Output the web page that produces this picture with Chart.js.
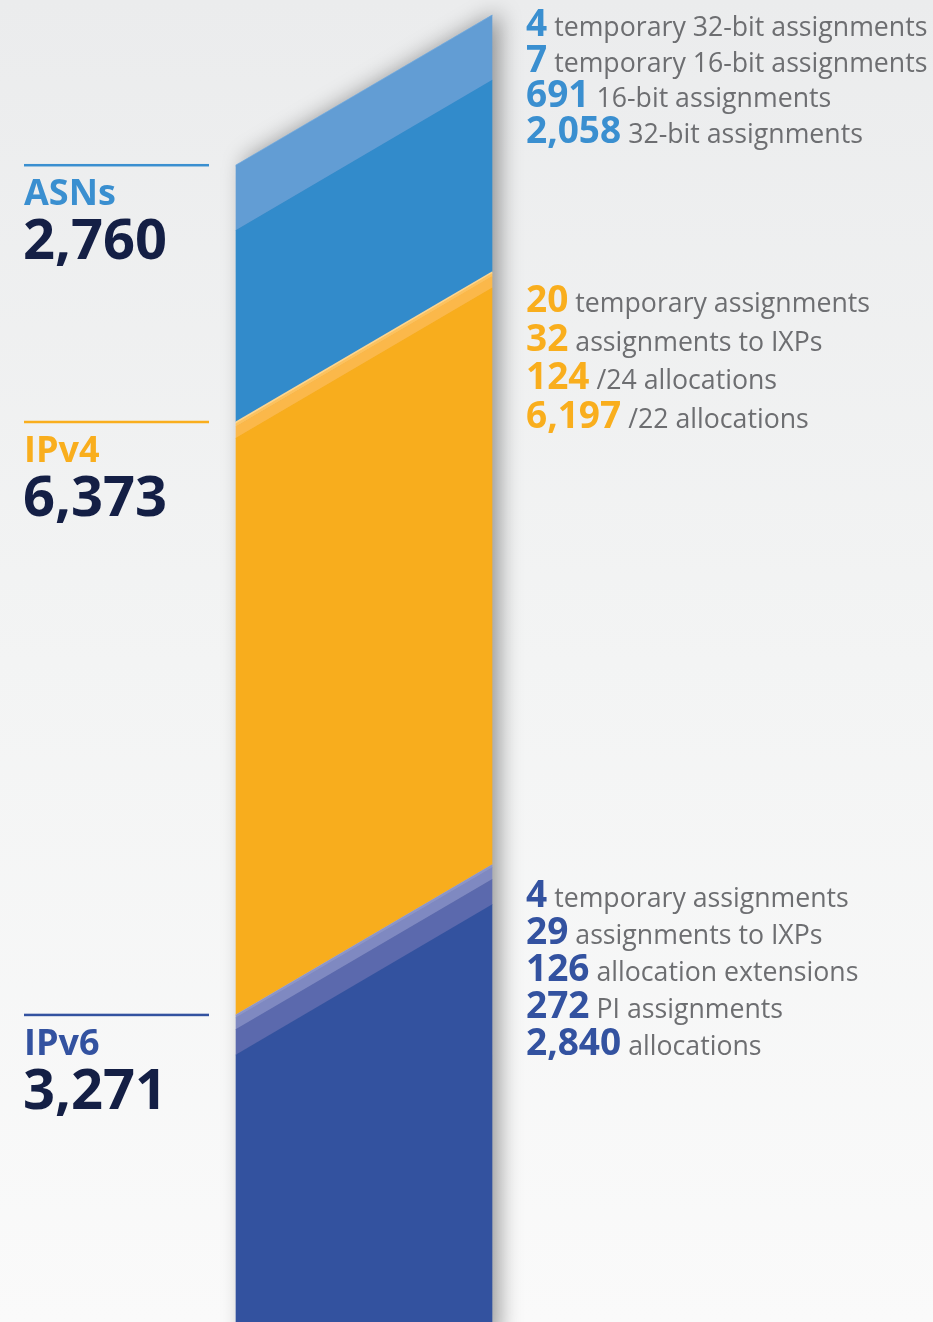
<!DOCTYPE html>
<html>
<head>
<meta charset="utf-8">
<script src="https://cdn.jsdelivr.net/npm/chart.js@4.4.0/dist/chart.umd.min.js"></script>
<style>
  html, body { margin: 0; padding: 0; overflow: hidden; }
  body { width: 933px; height: 1322px; background: linear-gradient(#ebeced, #f3f4f4 50%, #fafafa); }
  canvas { display: block; }
</style>
</head>
<body>
<canvas id="chart" width="933" height="1322"></canvas>
<script>
// data, top of the bar first
const groupNames = ['ASNs', 'IPv4', 'IPv6'];

const asnValues = [4, 7, 691, 2058];
const asnLabels = ['temporary 32-bit assignments', 'temporary 16-bit assignments', '16-bit assignments', '32-bit assignments'];

const ipv4Values = [20, 32, 124, 6197];
const ipv4Labels = ['temporary assignments', 'assignments to IXPs', '/24 allocations', '/22 allocations'];

const ipv6Values = [4, 29, 126, 272, 2840];
const ipv6Labels = ['temporary assignments', 'assignments to IXPs', 'allocation extensions', 'PI assignments', 'allocations'];

// styles
const groupColors = ['#3a8fd0', '#f9ae1d', '#3352a0'];
const asnColors = ['#7db0de', '#6fa6da', '#629dd4', '#328bcb'];
const ipv4Colors = ['#fdd58f', '#fcc25f', '#fbb84a', '#f8ad1d'];
const ipv6Colors = ['#a3aad6', '#8c95c8', '#7f89c1', '#5b69ad', '#33529f'];
const rightFirstBaseline = [36, 312, 907];
const rightLineHeight = [35.7, 38.6, 37];
const slope = 150 / 256;

const groupValues = [asnValues, ipv4Values, ipv6Values];
const groupLabels = [asnLabels, ipv4Labels, ipv6Labels];
const groupShades = [asnColors, ipv4Colors, ipv6Colors];
const groupTotals = groupValues.map(v => v.reduce((a, b) => a + b, 0));
const total = groupTotals.reduce((a, b) => a + b, 0);
const barBase = -1800;

function fmt(n) {
    return n.toLocaleString('en-US');
}

// stack from the bottom: IPv6 allocations first
var datasets = [];
for (var g = groupNames.length - 1; g >= 0; g--) {
    for (var i = groupValues[g].length - 1; i >= 0; i--) {
        datasets.push({
            label: groupNames[g] + ' ' + groupLabels[g][i],
            data: [groupValues[g][i]],
            backgroundColor: groupShades[g][i],
            borderWidth: 0,
            clip: false
        });
    }
}
datasets[0].base = barBase;

const skewPlugin = {
    id: 'skew',
    beforeDatasetsDraw(chart) {
        const ctx = chart.ctx;
        const a = chart.chartArea;
        const y = chart.scales.y;
        ctx.save();
        ctx.transform(1, -slope, 0, 1, 0, slope * a.left);
        var top = y.getPixelForValue(total);
        var bottom = y.getPixelForValue(barBase);
        ctx.save();
        ctx.shadowColor = 'rgba(0,0,0,0.4)';
        ctx.shadowBlur = 22;
        ctx.shadowOffsetX = 8;
        ctx.shadowOffsetY = -4;
        ctx.fillStyle = '#888';
        ctx.fillRect(a.left + 1, top + 1, a.right - a.left - 2, bottom - top);
        ctx.restore();
    },
    afterDatasetsDraw(chart) {
        chart.ctx.restore();
    }
};

const textPlugin = {
    id: 'texts',
    afterDraw(chart) {
        const ctx = chart.ctx;
        const y = chart.scales.y;
        var top = total;
        ctx.save();
        ctx.textBaseline = 'alphabetic';
        ctx.textAlign = 'left';
        groupNames.forEach(function (name, g) {
            var py = y.getPixelForValue(top);
            // left side
            ctx.fillStyle = groupColors[g];
            ctx.fillRect(24, py - 1, 185, 2.5);
            ctx.font = 'bold 36px "Open Sans"';
            ctx.fillText(name, 24, py + 40);
            ctx.fillStyle = '#141f45';
            ctx.font = 'bold 56px "Open Sans"';
            ctx.fillText(fmt(groupTotals[g]), 23, py + 94);
            // right side
            groupValues[g].forEach(function (v, i) {
                var by = rightFirstBaseline[g] + i * rightLineHeight[g];
                ctx.font = 'bold 37px "Open Sans"';
                ctx.fillStyle = groupColors[g];
                var num = fmt(v);
                ctx.fillText(num, 526, by);
                var w = ctx.measureText(num).width;
                ctx.font = '26.7px "Open Sans"';
                ctx.fillStyle = '#6d6e71';
                ctx.fillText(groupLabels[g][i], 526 + w + 7, by);
            });
            top -= groupTotals[g];
        });
        ctx.restore();
    }
};

function draw() {
    new Chart(document.getElementById('chart'), {
        type: 'bar',
        data: {
            labels: ['Resources'],
            datasets: datasets
        },
        options: {
            responsive: false,
            animation: false,
            events: [],
            layout: {
                padding: { left: 236, right: 441, top: 0, bottom: 0 }
            },
            datasets: {
                bar: { barPercentage: 1, categoryPercentage: 1 }
            },
            scales: {
                x: { stacked: true, display: false },
                y: { stacked: true, display: false, min: -32, max: 14177 }
            },
            plugins: {
                legend: { display: false },
                tooltip: { enabled: false }
            }
        },
        plugins: [skewPlugin, textPlugin]
    });
}

Promise.all([
    document.fonts.load('bold 37px "Open Sans"'),
    document.fonts.load('26.7px "Open Sans"')
]).then(draw, draw);
</script>
</body>
</html>
